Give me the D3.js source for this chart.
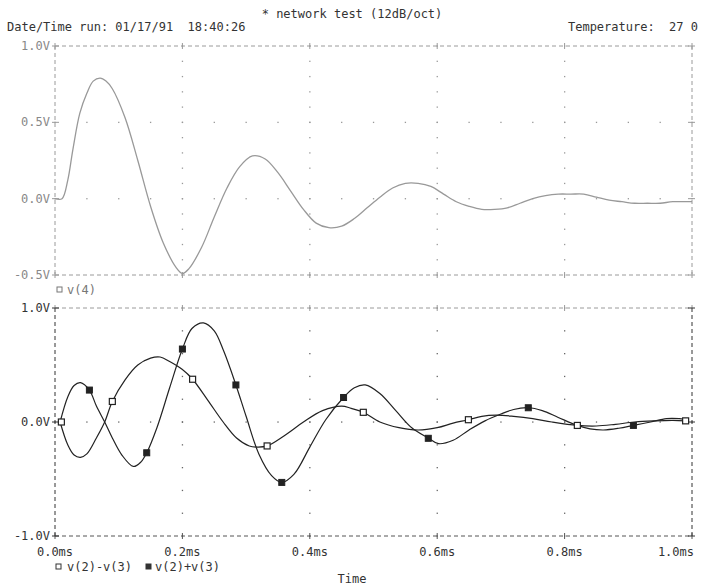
<!DOCTYPE html>
<html><head><meta charset="utf-8">
<script src="https://cdn.jsdelivr.net/npm/d3@7"></script>
<style>body{margin:0;background:#fff}svg{display:block}text{font-family:"DejaVu Sans Mono",monospace;font-size:12px;white-space:pre}</style>
</head><body>
<svg id="c" width="701" height="585"></svg>
<script>
// ---- data ----
const title = "* network test (12dB/oct)";
const dateText = "Date/Time run: 01/17/91  18:40:26";
const tempText = "Temperature:  27 0";
const xTicks = [0, 0.2, 0.4, 0.6, 0.8, 1.0];
const xTickLabels = ["0.0ms","0.2ms","0.4ms","0.6ms","0.8ms","1.0ms"];
const topYTicks = [1.0, 0.5, 0.0, -0.5];
const topYTickLabels = ["1.0V","0.5V","0.0V","-0.5V"];
const botYTicks = [1.0, 0.0, -1.0];
const botYTickLabels = ["1.0V","0.0V","-1.0V"];

const v4T = [0,0.011,0.02,0.028,0.039,0.05,0.06,0.071,0.08,0.09,0.11,0.13,0.15,0.17,0.19,0.2,0.21,0.23,0.25,0.27,0.29,0.31,0.33,0.35,0.37,0.39,0.41,0.43,0.45,0.47,0.49,0.51,0.53,0.55,0.57,0.59,0.61,0.63,0.65,0.67,0.69,0.71,0.73,0.75,0.77,0.79,0.81,0.83,0.85,0.87,0.89,0.91,0.93,0.95,0.97,1.0];
const v4V = [0,0,0.12,0.32,0.56,0.69,0.77,0.79,0.77,0.72,0.53,0.25,-0.05,-0.29,-0.45,-0.49,-0.46,-0.32,-0.12,0.07,0.21,0.28,0.26,0.17,0.05,-0.07,-0.16,-0.19,-0.18,-0.13,-0.06,0.01,0.07,0.10,0.10,0.08,0.03,-0.02,-0.05,-0.07,-0.07,-0.06,-0.03,0.0,0.02,0.03,0.03,0.03,0.01,-0.01,-0.02,-0.03,-0.03,-0.03,-0.02,-0.02];

const diffT = [0.008,0.02,0.03,0.04,0.05,0.065,0.078,0.09,0.11,0.13,0.15,0.165,0.18,0.2,0.216,0.24,0.264,0.285,0.305,0.318,0.333,0.36,0.39,0.42,0.45,0.465,0.484,0.51,0.54,0.57,0.6,0.625,0.649,0.67,0.693,0.72,0.75,0.78,0.82,0.85,0.88,0.91,0.94,0.97,0.99];
const diffV = [0,-0.2,-0.29,-0.31,-0.28,-0.14,0,0.18,0.37,0.5,0.56,0.57,0.53,0.46,0.375,0.19,0,-0.14,-0.21,-0.22,-0.21,-0.12,0.0,0.10,0.14,0.12,0.085,0.0,-0.05,-0.07,-0.05,-0.01,0.02,0.05,0.06,0.05,0.03,0.0,-0.03,-0.035,-0.02,0.0,0.01,0.015,0.01];
const diffMarkT = [0.01,0.09,0.216,0.333,0.484,0.649,0.82,0.99];
const diffMarkV = [0.0,0.18,0.375,-0.21,0.085,0.02,-0.03,0.01];

const sumT = [0.008,0.02,0.03,0.04,0.054,0.065,0.078,0.09,0.105,0.123,0.135,0.144,0.16,0.18,0.2,0.215,0.233,0.25,0.265,0.284,0.3,0.32,0.34,0.356,0.375,0.4,0.425,0.453,0.47,0.487,0.51,0.535,0.56,0.586,0.602,0.625,0.65,0.675,0.7,0.72,0.743,0.765,0.79,0.82,0.84,0.861,0.885,0.908,0.935,0.96,0.98,0.995];
const sumV = [0,0.22,0.32,0.345,0.28,0.14,0,-0.14,-0.29,-0.39,-0.35,-0.27,-0.05,0.3,0.64,0.82,0.87,0.8,0.62,0.325,0.05,-0.28,-0.47,-0.53,-0.46,-0.22,0.02,0.215,0.30,0.325,0.25,0.10,-0.05,-0.14,-0.19,-0.16,-0.07,0.01,0.07,0.11,0.125,0.10,0.04,-0.03,-0.06,-0.07,-0.055,-0.03,0.0,0.03,0.03,0.02];
const sumMarkT = [0.054,0.144,0.2,0.284,0.356,0.453,0.586,0.743,0.908];
const sumMarkV = [0.28,-0.27,0.64,0.325,-0.53,0.215,-0.143,0.125,-0.03];

// ---- drawing ----
const svg = d3.select("#c");
const x = d3.scaleLinear().domain([0,1]).range([55,692]);
const yT = d3.scaleLinear().domain([-0.5,1.0]).range([275,46]);
const yB = d3.scaleLinear().domain([-1,1]).range([536,308]);

const lightAxis = "#9a9a9a", darkAxis = "#333";

function frame(y, yticks, ylabels, labelColor, leftColor, bottomColor, dotStep, dotColor) {
  const [y0,y1] = y.domain();
  const g = svg.append("g");
  xTicks.slice(1,-1).forEach(t=>{
    d3.range(y0, y1+1e-9, dotStep).forEach(v=>{
      g.append("rect").attr("x",x(t)-0.6).attr("y",y(v)-0.6).attr("width",1.3).attr("height",1.3).attr("fill",dotColor);
    });
  });
  yticks.slice(1,-1).forEach(v=>{
    d3.range(0,1.0001,0.05).forEach(t=>{
      g.append("rect").attr("x",x(t)-0.6).attr("y",y(v)-0.6).attr("width",1.3).attr("height",1.3).attr("fill",dotColor);
    });
  });
  const dash = "4,3";
  g.append("line").attr("x1",x(0)).attr("x2",x(1)).attr("y1",y(y1)).attr("y2",y(y1)).attr("stroke",lightAxis).attr("stroke-dasharray",dash);
  g.append("line").attr("x1",x(0)).attr("x2",x(1)).attr("y1",y(y0)).attr("y2",y(y0)).attr("stroke",bottomColor).attr("stroke-dasharray",dash);
  g.append("line").attr("x1",x(0)).attr("x2",x(0)).attr("y1",y(y1)).attr("y2",y(y0)).attr("stroke",leftColor).attr("stroke-dasharray",dash);
  g.append("line").attr("x1",x(1)).attr("x2",x(1)).attr("y1",y(y1)).attr("y2",y(y0)).attr("stroke",leftColor).attr("stroke-dasharray",dash);
  xTicks.forEach(t=>{
    [y(y1), y(y0)].forEach(yy=>{
      g.append("line").attr("x1",x(t)).attr("x2",x(t)).attr("y1",yy-3).attr("y2",yy+3).attr("stroke",yy===y(y0)?bottomColor:lightAxis);
    });
  });
  yticks.forEach((v,i)=>{
    g.append("line").attr("x1",x(0)-3).attr("x2",x(0)+4).attr("y1",y(v)).attr("y2",y(v)).attr("stroke",leftColor);
    g.append("line").attr("x1",x(1)-4).attr("x2",x(1)+3).attr("y1",y(v)).attr("y2",y(v)).attr("stroke",leftColor);
    g.append("text").attr("x",x(0)-5).attr("y",y(v)+4).attr("text-anchor","end").attr("fill",labelColor).text(ylabels[i]);
  });
}

frame(yT, topYTicks, topYTickLabels, "#888", lightAxis, lightAxis, 0.1, "#999");
frame(yB, botYTicks, botYTickLabels, "#333", darkAxis, "#555", 0.2, "#666");

// x tick labels
xTicks.forEach((t,i)=>{
  const last = i === xTicks.length-1;
  svg.append("text").attr("x",last ? x(t)+2 : x(t)).attr("y",556)
    .attr("text-anchor",last ? "end" : "middle").attr("fill","#333").text(xTickLabels[i]);
});

// curves
const line = (y)=>d3.line().x(d=>x(d[0])).y(d=>y(d[1])).curve(d3.curveCatmullRom.alpha(0.5));
svg.append("path").datum(v4T.map((t,i)=>[t,v4V[i]])).attr("d",line(yT)).attr("fill","none").attr("stroke","#999").attr("stroke-width",1.3);
svg.append("path").datum(diffT.map((t,i)=>[t,diffV[i]])).attr("d",line(yB)).attr("fill","none").attr("stroke","#222").attr("stroke-width",1.2);
svg.append("path").datum(sumT.map((t,i)=>[t,sumV[i]])).attr("d",line(yB)).attr("fill","none").attr("stroke","#222").attr("stroke-width",1.2);

// markers
const ms = 6;
svg.selectAll(".md").data(diffMarkT.map((t,i)=>[t,diffMarkV[i]])).enter().append("rect")
  .attr("x",d=>x(d[0])-ms/2).attr("y",d=>yB(d[1])-ms/2).attr("width",ms).attr("height",ms)
  .attr("fill","#fff").attr("stroke","#222").attr("stroke-width",1.2);
svg.selectAll(".ms").data(sumMarkT.map((t,i)=>[t,sumMarkV[i]])).enter().append("rect")
  .attr("x",d=>x(d[0])-ms/2).attr("y",d=>yB(d[1])-ms/2).attr("width",ms).attr("height",ms)
  .attr("fill","#222").attr("stroke","#222").attr("stroke-width",1);

// header texts
svg.append("text").attr("x",352).attr("y",18).attr("text-anchor","middle").attr("fill","#333").text(title);
svg.append("text").attr("x",7).attr("y",31).attr("fill","#333").text(dateText);
svg.append("text").attr("x",698).attr("y",31).attr("text-anchor","end").attr("fill","#333").text(tempText);

// legends
svg.append("rect").attr("x",57).attr("y",287).attr("width",5).attr("height",5).attr("fill","#fff").attr("stroke","#777");
svg.append("text").attr("x",67).attr("y",294).attr("fill","#777").text("v(4)");
svg.append("rect").attr("x",56).attr("y",564).attr("width",5).attr("height",5).attr("fill","#fff").attr("stroke","#333");
svg.append("text").attr("x",67).attr("y",571).attr("fill","#333").text("v(2)-v(3)");
svg.append("rect").attr("x",146).attr("y",564).attr("width",5).attr("height",5).attr("fill","#333").attr("stroke","#333");
svg.append("text").attr("x",155).attr("y",571).attr("fill","#333").text("v(2)+v(3)");
svg.append("text").attr("x",352).attr("y",583).attr("text-anchor","middle").attr("fill","#333").text("Time");
</script>
</body></html>
